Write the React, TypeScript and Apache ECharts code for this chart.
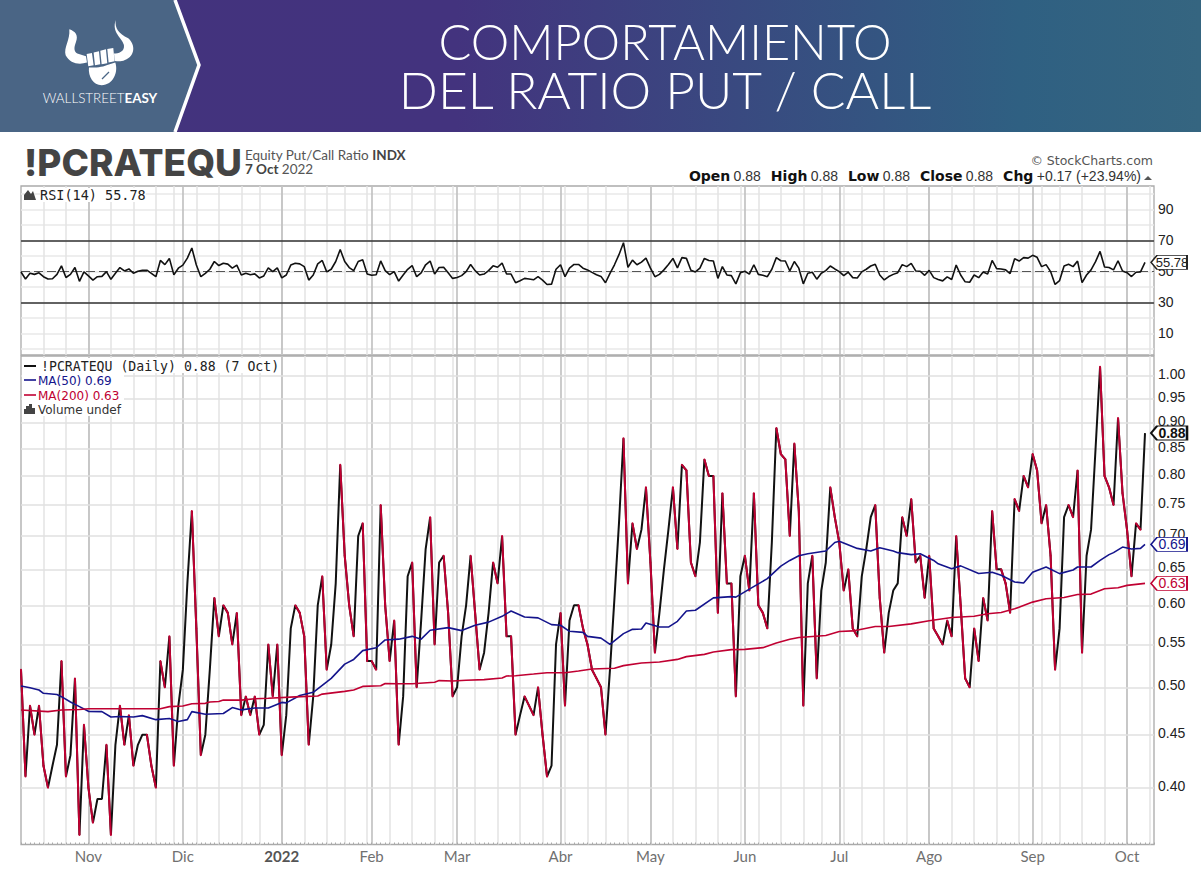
import React, { useEffect, useRef } from "react";
import * as echarts from "echarts";

const holidays = ["2021-11-25","2021-12-24","2022-01-17","2022-02-21","2022-04-15","2022-05-30","2022-06-20","2022-07-04","2022-09-05"];
const firstDay = "2021-10-11";
const lastAxisDay = "2022-10-11";
const monthLabels = ["Nov","Dic","2022","Feb","Mar","Abr","May","Jun","Jul","Ago","Sep","Oct"];

const closes = [
  0.52,0.41,0.48,0.45,0.48,0.42,0.40,0.42,0.44,0.53,
  0.41,0.43,0.51,0.36,0.46,0.40,0.37,0.39,0.39,0.44,
  0.36,0.44,0.48,0.44,0.47,0.42,0.44,0.45,0.45,0.42,
  0.40,0.53,0.50,0.56,0.42,0.48,0.52,0.63,0.74,0.57,
  0.43,0.45,0.52,0.61,0.56,0.60,0.59,0.55,0.59,0.47,
  0.49,0.47,0.49,0.45,0.46,0.55,0.49,0.55,0.43,0.47,
  0.57,0.60,0.59,0.56,0.44,0.49,0.60,0.64,0.52,0.55,
  0.63,0.82,0.67,0.60,0.56,0.70,0.72,0.53,0.53,0.52,
  0.75,0.60,0.53,0.58,0.44,0.49,0.64,0.66,0.50,0.58,
  0.68,0.73,0.55,0.66,0.67,0.59,0.49,0.50,0.56,0.60,
  0.67,0.59,0.52,0.54,0.59,0.66,0.63,0.70,0.56,0.56,
  0.45,0.47,0.49,0.48,0.47,0.50,0.45,0.41,0.42,0.55,
  0.59,0.48,0.58,0.60,0.60,0.57,0.55,0.52,0.51,0.50,
  0.45,0.52,0.61,0.72,0.87,0.63,0.72,0.68,0.71,0.78,
  0.66,0.54,0.59,0.65,0.71,0.78,0.68,0.82,0.81,0.66,
  0.64,0.69,0.83,0.80,0.80,0.59,0.77,0.63,0.63,0.49,
  0.64,0.67,0.62,0.77,0.60,0.59,0.57,0.69,0.89,0.84,
  0.83,0.70,0.86,0.74,0.48,0.63,0.67,0.51,0.62,0.66,
  0.78,0.73,0.69,0.62,0.65,0.57,0.56,0.64,0.68,0.73,
  0.75,0.61,0.54,0.59,0.62,0.63,0.73,0.70,0.76,0.66,
  0.67,0.61,0.67,0.57,0.56,0.55,0.58,0.56,0.70,0.60,
  0.51,0.50,0.57,0.53,0.61,0.58,0.74,0.65,0.65,0.63,
  0.59,0.76,0.74,0.80,0.78,0.84,0.81,0.72,0.75,0.67,
  0.52,0.57,0.73,0.75,0.73,0.81,0.54,0.67,0.71,0.85,
  1.02,0.80,0.78,0.75,0.91,0.77,0.71,0.64,0.72,0.71,0.88,
];

const rsiValues = [
  49.5,45,48.7,48,49,46.5,45,45.2,48,53.5,
  46,48,52.4,43.5,49.6,47,44.3,46.5,46.7,49.8,
  44.8,48.7,52.4,50.2,51.5,48.7,50,50.7,50.7,48.7,
  46.5,57,54.3,58.3,47.8,52,54,58.5,65,54,
  46.5,48.7,51.3,56.3,53.7,55.2,54.6,52,54,47.6,
  48.7,47.8,48.3,45.7,47,52.2,49.8,52.2,45.7,47.6,
  54,55.2,54.8,53,44.3,47.6,54.8,57,49.6,51.3,
  56.3,64,56.3,52.4,50.4,56.3,57.4,48.3,47.4,47.8,
  56.7,50.4,47.8,49.8,43.7,47.6,51.3,53.7,46.5,49,
  54.2,56.6,48.2,52.4,52.6,49,45.4,46,47.2,49.8,
  54.4,50.4,47.6,48.2,50.4,53.5,52.6,55.3,48.2,48.2,
  42.6,43.9,45.4,45,44.5,46.5,44.3,41.5,41.7,51.3,
  54.2,46.5,52,54.4,54.4,52,50.9,49.3,47.8,46.7,
  42.6,48.7,54.2,60.7,68.4,52.6,57.2,54.2,55.9,58.5,
  52,46.5,48,50.9,54.4,58.3,52.2,58.8,58.3,50.7,
  49.6,52,58.3,57,56.6,45.4,53,47.6,47.2,41.9,
  49,50,48.2,54.2,48,47.4,46.5,51.3,58.8,56.8,
  56.6,50.2,56.3,52,41.9,48.7,49.4,44.9,48.7,50.4,
  53.4,51.5,49.8,47.2,49.4,45.9,45.7,49.6,51.3,53.4,
  54.5,47.6,44.4,46.6,48,49.1,54.3,53,55.1,50.2,
  50,47.4,50.6,45.9,44.7,43.8,46.4,44.7,54,47.6,
  43.2,42.9,47.6,45.9,49.6,48.3,57,51.7,51.5,50.9,
  48.5,58.1,56.6,58.8,58.5,60.3,59,53,54.3,49.8,
  41.5,44,53.4,54.5,53,56.6,42.7,47.6,50.9,56.2,
  62.8,52.8,52.4,50.9,56.8,50.2,49.1,46.6,49.4,49.6,55.78,
];

const ma50Points = [
  [0,.5015],[2,.4996],[4,.497],[5,.4934],[8,.492],[9,.4897],[11,.484],[13,.479],[15,.474],[18,.4737],
  [20,.468],[22,.4686],[25,.468],[27,.4695],[30,.4653],[33,.4665],[35,.4634],[37,.4653],[38,.4737],[41,.471],
  [45,.4717],[47,.478],[49,.4755],[52,.4775],[55,.4775],[58,.4835],[59,.483],[62,.491],[65,.4945],[68,.506],
  [69,.51],[72,.5265],[74,.532],[76,.5425],[79,.546],[81,.5555],[84,.5565],[87,.56],[89,.5565],[91,.5676],
  [95,.571],[98,.5672],[101,.574],[104,.578],[107,.5855],[109,.5925],[112,.5847],[115,.5835],[118,.5748],[120,.574],
  [122,.5663],[125,.565],[126,.56],[129,.5578],[131,.55],[134,.5634],[136,.5688],[138,.5693],[139,.5769],[142,.5717],
  [144,.5717],[146,.579],[148,.5925],[150,.5935],[154,.61],[158,.6117],[159,.611],[162,.622],[166,.6367],[169,.6547],
  [171,.663],[173,.67],[175,.673],[179,.677],[181,.69],[182,.692],[186,.681],[189,.677],[191,.682],[194,.677],
  [195,.6746],[198,.6716],[200,.673],[203,.663],[204,.658],[207,.651],[209,.655],[213,.644],[216,.6458],[218,.6414],
  [221,.632],[223,.6305],[225,.6458],[228,.6534],[231,.6438],[234,.649],[235,.6534],[238,.6534],[240,.663],[242,.6716],
  [243,.6746],[245,.683],[247,.68],[249,.681],[250,.687],
];

const ma200Points = [
  [0,.4754],[6,.4737],[9,.4754],[13,.476],[15,.4768],[31,.4768],[33,.479],[36,.4797],[38,.482],[41,.4825],
  [42,.484],[44,.4845],[45,.486],[49,.486],[52,.4875],[55,.488],[61,.4895],[66,.4905],[67,.4925],[72,.4955],
  [74,.497],[76,.501],[80,.5017],[81,.5043],[84,.504],[87,.504],[92,.5057],[93,.5075],[96,.507],[99,.508],
  [103,.5086],[107,.5105],[108,.5127],[110,.5131],[114,.515],[117,.5165],[121,.5165],[124,.5185],[127,.5208],[132,.5216],
  [134,.5247],[138,.5278],[142,.529],[146,.532],[148,.5353],[152,.538],[154,.5409],[158,.5437],[161,.544],[165,.5461],
  [168,.5518],[171,.5563],[173,.5585],[179,.561],[182,.566],[185,.5668],[190,.5724],[193,.5724],[198,.5758],[202,.5797],
  [207,.584],[212,.5857],[215,.5888],[218,.5905],[221,.5954],[225,.6043],[228,.6088],[232,.6105],[235,.6147],[238,.6152],
  [241,.6226],[244,.624],[246,.6272],[250,.63],
];

const priceTicks = [1.0,0.95,0.9,0.85,0.8,0.75,0.7,0.65,0.6,0.55,0.5,0.45,0.4];
const rsiLabelValues = [10,30,50,70,90];
const rsiGridValues = [0,10,20,30,40,50,60,70,80,90,100];
const rsiLevels = [70,30];
const closeTag = "0.88";
const ma50Tag = "0.69";
const ma200Tag = "0.63";
const rsiTag = "55.78";

const iso = (d: Date) => d.toISOString().slice(0, 10);
function buildDays() {
  const out: string[] = [];
  const d = new Date(firstDay + "T00:00:00Z");
  const end = new Date(lastAxisDay + "T00:00:00Z");
  while (d <= end) {
    const wd = d.getUTCDay();
    if (wd !== 0 && wd !== 6 && !holidays.includes(iso(d))) out.push(iso(d));
    d.setUTCDate(d.getUTCDate() + 1);
  }
  return out;
}
const days = buildDays();
const monthStarts: number[] = [];
const weekStarts: number[] = [];
days.forEach((s, i) => {
  if (i === 0) return;
  if (s.slice(5, 7) !== days[i - 1].slice(5, 7)) monthStarts.push(i);
  const a = new Date(s + "T00:00:00Z").getUTCDay();
  const b = new Date(days[i - 1] + "T00:00:00Z").getUTCDay();
  if (a < b) weekStarts.push(i);
});
const monthSet = new Set(monthStarts);
const weekSet = new Set(weekStarts);
const labelByDay: Record<string, string> = {};
monthStarts.forEach((i, k) => { if (monthLabels[k]) labelByDay[days[i]] = monthLabels[k]; });
const lastIdx = closes.length - 1;
const downSegments: number[][] = [];
closes.forEach((c, i) => { if (i > 0 && c < closes[i - 1]) downSegments.push([i - 1, closes[i - 1], i, c]); });

const PLOT_LEFT = 21, PLOT_W = 1133;
const MONO = "'DejaVu Sans Mono'";
const SANS = "'Liberation Sans'";
const tagPath = "path://M0,7 L6,0 L36,0 L36,14 L6,14 Z";

function tag(idx: number, value: number, text: string, color: string, bold = false, fontSize = 14) {
  return {
    silent: true,
    z: 20,
    symbol: tagPath,
    symbolSize: [36, 14],
    symbolKeepAspect: false,
    symbolOffset: [24, 0],
    itemStyle: { color: "#fff", borderColor: color, borderWidth: bold ? 1.6 : 1.2 },
    label: {
      show: true, position: "inside", offset: [3, 0], formatter: text, color,
      fontFamily: SANS, fontSize, fontWeight: bold ? "bold" : "normal",
    },
    data: [{ coord: [days[idx], value] }],
  };
}

function xAxes(gridIndex: number, withLabels: boolean) {
  const minor = {
    type: "category", gridIndex, data: days, boundaryGap: false, position: "bottom",
    axisLine: { show: false },
    axisTick: withLabels
      ? { show: true, inside: true, length: 2, interval: 0, lineStyle: { color: "#aaa", width: 1 } }
      : { show: false },
    axisLabel: { show: false },
    splitLine: { show: true, interval: (i: number) => weekSet.has(i), lineStyle: { color: "#e3e3e3", width: 1.5 } },
  };
  const major = {
    type: "category", gridIndex, data: days, boundaryGap: false, position: "bottom",
    axisLine: { show: false },
    axisTick: { show: false },
    axisLabel: {
      show: withLabels,
      interval: (i: number) => monthSet.has(i),
      margin: 4,
      hideOverlap: false,
      color: "#707070",
      fontFamily: "Lato",
      fontSize: 15,
      formatter: (v: string) => {
        const t = labelByDay[v] || "";
        return t === "2022" ? "{y|2022}" : t;
      },
      rich: { y: { fontWeight: "bold", fontSize: 15, color: "#555", fontFamily: "Lato" } },
    },
    splitLine: { show: true, interval: (i: number) => monthSet.has(i), lineStyle: { color: "#bfbfbf", width: 1.6 } },
  };
  return [minor, major];
}

const legendFont = "12px 'DejaVu Sans'";
function graphicElements() {
  const white = "#fff";
  return [
    {
      type: "rect", silent: true, z: -10,
      shape: { x: 0, y: 0, width: 1201, height: 132 },
      style: {
        fill: new echarts.graphic.LinearGradient(0, 0, 1, 0, [
          { offset: 0, color: "#43337d" }, { offset: 0.38, color: "#43337e" },
          { offset: 0.85, color: "#2f6082" }, { offset: 1, color: "#356580" },
        ]),
      },
    },
    { type: "polygon", silent: true, z: -9, shape: { points: [[0, 0], [174, 0], [198, 65], [174, 132], [0, 132]] }, style: { fill: "#4a6585" } },
    { type: "polyline", silent: true, z: -8, shape: { points: [[175, 0], [199, 65], [175, 132]] }, style: { stroke: white, lineWidth: 3.5, fill: "none" } },
    { type: "bullLogo", silent: true, z: -7, x: 50, y: 10, scaleX: 1 / 3, scaleY: 1 / 3, style: { fill: white } },
    { type: "line", silent: true, z: -6, shape: { x1: 102, y1: 79, x2: 109, y2: 72 }, style: { stroke: "#4a6585", lineWidth: 1.3 } },
    {
      type: "text", silent: true, x: 100, y: 98, z: -6,
      style: {
        text: "{a|WALLSTREET}{b|EASY}", align: "center", verticalAlign: "middle",
        rich: {
          a: { fontFamily: "Lato", fontWeight: 300, fontSize: 13.4, fill: white, color: white },
          b: { fontFamily: "Lato", fontWeight: 700, fontSize: 13.4, fill: white, color: white },
        },
      },
    },
    { type: "text", silent: true, x: 665, y: 41, style: { text: "COMPORTAMIENTO", align: "center", verticalAlign: "middle", fill: white, fontFamily: "Lato", fontWeight: 300, fontSize: 48.7, lineHeight: 44 } },
    { type: "text", silent: true, x: 665, y: 89, style: { text: "DEL RATIO PUT / CALL", align: "center", verticalAlign: "middle", fill: white, fontFamily: "Lato", fontWeight: 300, fontSize: 51.4, lineHeight: 44 } },
    { type: "text", silent: true, x: 24, y: 162, style: { text: "!PCRATEQU", align: "left", verticalAlign: "middle", fill: "#444", fontFamily: "Inter", fontWeight: 800, fontSize: 37 } },
    {
      type: "text", silent: true, x: 245, y: 155,
      style: {
        text: "{a|Equity Put/Call Ratio} {b|INDX}", align: "left", verticalAlign: "middle",
        rich: { a: { fontFamily: "Lato", fontSize: 13.5, color: "#555", fill: "#555" }, b: { fontFamily: "Lato", fontWeight: 700, fontSize: 13.5, color: "#444", fill: "#444" } },
      },
    },
    {
      type: "text", silent: true, x: 245, y: 169,
      style: {
        text: "{b|7 Oct} {a|2022}", align: "left", verticalAlign: "middle",
        rich: { a: { fontFamily: "Lato", fontSize: 13.5, color: "#555", fill: "#555" }, b: { fontFamily: "Lato", fontWeight: 700, fontSize: 13.5, color: "#444", fill: "#444" } },
      },
    },
    { type: "text", silent: true, x: 1153, y: 160, style: { text: "© StockCharts.com", align: "right", verticalAlign: "middle", fill: "#555", fontFamily: "'DejaVu Sans'", fontSize: 12.5 } },
    {
      type: "text", silent: true, x: 1141, y: 176,
      style: {
        text: "{b|Open} {v|0.88}   {b|High} {v|0.88}   {b|Low} {v|0.88}   {b|Close} {v|0.88}   {b|Chg} {v|+0.17 (+23.94%)}",
        align: "right", verticalAlign: "middle",
        rich: {
          b: { fontFamily: "'DejaVu Sans'", fontWeight: "bold", fontSize: 14, color: "#111", fill: "#111" },
          v: { fontFamily: SANS, fontSize: 14, color: "#333", fill: "#333" },
        },
      },
    },
    { type: "polygon", silent: true, shape: { points: [[1144, 180], [1148, 176], [1152, 180]] }, style: { fill: "#555" } },
    // RSI legend
    { type: "polygon", silent: true, z: 30, shape: { points: [[24, 200], [24, 195], [28, 190], [31, 194], [33, 191], [36, 200]] }, style: { fill: "#444" } },
    { type: "text", silent: true, z: 30, x: 40, y: 195, style: { text: "RSI(14) 55.78", align: "left", verticalAlign: "middle", fill: "#222", fontFamily: MONO, fontSize: 13.5, backgroundColor: "#fff" } },
    // main legend
    { type: "rect", silent: true, z: 29, shape: { x: 22, y: 358, width: 258, height: 15 }, style: { fill: "#fff" } },
    { type: "rect", silent: true, z: 29, shape: { x: 22, y: 373, width: 102, height: 43 }, style: { fill: "#fff" } },
    { type: "line", silent: true, z: 30, shape: { x1: 24, y1: 366, x2: 36, y2: 366 }, style: { stroke: "#111", lineWidth: 2 } },
    { type: "text", silent: true, z: 30, x: 41, y: 366, style: { text: "!PCRATEQU (Daily) 0.88 (7 Oct)", align: "left", verticalAlign: "middle", fill: "#222", fontFamily: MONO, fontSize: 13.2 } },
    { type: "line", silent: true, z: 30, shape: { x1: 24, y1: 380, x2: 36, y2: 380 }, style: { stroke: "#14148c", lineWidth: 1.6 } },
    { type: "text", silent: true, z: 30, x: 38, y: 381, style: { text: "MA(50) 0.69", align: "left", verticalAlign: "middle", fill: "#14148c", font: legendFont } },
    { type: "line", silent: true, z: 30, shape: { x1: 24, y1: 395, x2: 36, y2: 395 }, style: { stroke: "#c00032", lineWidth: 1.6 } },
    { type: "text", silent: true, z: 30, x: 38, y: 396, style: { text: "MA(200) 0.63", align: "left", verticalAlign: "middle", fill: "#c00032", font: legendFont } },
    { type: "polygon", silent: true, z: 30, shape: { points: [[24, 414], [24, 409], [26, 409], [26, 406], [29, 406], [29, 404], [32, 404], [32, 408], [35, 408], [35, 414]] }, style: { fill: "#444" } },
    { type: "text", silent: true, z: 30, x: 38, y: 410, style: { text: "Volume undef", align: "left", verticalAlign: "middle", fill: "#333", font: legendFont } },
  ];
}

const logoD =
  "M58,58 C76,64 86,76 78,96 C71,114 72,124 82,131 L108,139 L111,158 C85,166 60,160 47,136 C40,114 61,90 58,58 Z " +
  "M197,30 C195,55 205,70 235,85 C258,105 255,140 225,150 C215,155 205,155 195,153 L192,131 C205,131 225,125 222,105 C215,80 185,70 197,30 Z " +
  "M110,132 L126,129 L131,166 L115,169 Z M131,128 L147,124 L151,163 L135,166 Z M151,122 L168,118 L172,160 L155,163 Z M172,117 L190,114 L194,154 L176,158 Z " +
  "M117,173 C140,173 155,172 172,165 L196,158 C206,186 190,226 155,226 C130,226 114,200 117,173 Z";

echarts.graphic.registerShape("bullLogo", echarts.graphic.extendPath(logoD, {}) as any);

export default function App() {
  const ref = useRef<HTMLDivElement>(null);
  useEffect(() => {
    if (!ref.current) return;
    document.body.style.margin = "0";
    document.body.style.background = "#fff";
    const chart = echarts.init(ref.current, undefined, { renderer: "svg" });
    const option: any = {
      animation: false,
      backgroundColor: "#fff",
      grid: [
        { left: PLOT_LEFT, top: 186, width: PLOT_W, height: 169, show: true, borderColor: "#aaa", borderWidth: 1.3, backgroundColor: "#fff" },
        { left: PLOT_LEFT, top: 356, width: PLOT_W, height: 488.5, show: true, borderColor: "#aaa", borderWidth: 1.3, backgroundColor: "#fff" },
      ],
      xAxis: [...xAxes(0, false), ...xAxes(1, true)],
      yAxis: [
        {
          type: "value", gridIndex: 0, position: "right", min: -4, max: 105,
          axisLine: { show: false },
          axisTick: { show: false, customValues: rsiGridValues },
          axisLabel: { customValues: rsiLabelValues, color: "#222", fontFamily: SANS, fontSize: 14, margin: 4 },
          splitLine: { show: true, lineStyle: { color: "#e8e8e8", width: 1.5 } },
        },
        {
          type: "log", gridIndex: 1, position: "right", min: 0.3525, max: 1.0446,
          axisLine: { show: false }, axisTick: { show: false }, axisLabel: { show: false }, splitLine: { show: false },
        },
      ],
      series: [
        {
          name: "RSI(14)", type: "line", xAxisIndex: 0, yAxisIndex: 0, z: 4,
          data: rsiValues, showSymbol: false, silent: true,
          lineStyle: { color: "#111", width: 1.6 },
          markLine: {
            silent: true, symbol: "none", z: 3, animation: false,
            label: { show: false },
            lineStyle: { color: "#333", width: 1.6, type: "solid" },
            data: [
              ...rsiLevels.map((v) => ({ yAxis: v })),
              { yAxis: 50, lineStyle: { color: "#555", width: 1, type: [9, 4] } },
            ],
          },
          markPoint: tag(lastIdx, rsiValues[lastIdx], rsiTag, "#222", false, 13),
        },
        {
          name: "!PCRATEQU", type: "line", xAxisIndex: 2, yAxisIndex: 1, z: 4,
          data: closes, showSymbol: false, silent: true,
          lineStyle: { color: "#111", width: 2 },
          markLine: {
            silent: true, symbol: "none", z: 1, animation: false,
            lineStyle: { color: "#e0e0e0", width: 1.5, type: "solid" },
            label: {
              show: true, position: "end", distance: 4, offset: [0, -2],
              color: "#222", fontFamily: SANS, fontSize: 14,
              formatter: (p: any) => Number(p.value).toFixed(2),
            },
            data: priceTicks.map((v) => ({ yAxis: v })),
          },
          markPoint: tag(lastIdx, closes[lastIdx], closeTag, "#111", true),
        },
        {
          name: "down", type: "custom", xAxisIndex: 2, yAxisIndex: 1, z: 5, silent: true,
          coordinateSystem: "cartesian2d",
          encode: { x: [0, 2], y: [1, 3] },
          data: downSegments,
          renderItem: (_p: any, api: any) => {
            const a = api.coord([api.value(0), api.value(1)]);
            const b = api.coord([api.value(2), api.value(3)]);
            return {
              type: "line",
              shape: { x1: a[0], y1: a[1], x2: b[0], y2: b[1] },
              style: { stroke: "#c00032", lineWidth: 2, lineCap: "round", fill: null },
            };
          },
        },
        {
          name: "MA(50)", type: "line", xAxisIndex: 2, yAxisIndex: 1, z: 6,
          data: ma50Points.map(([i, v]) => [days[i], v]), showSymbol: false, silent: true,
          lineStyle: { color: "#14148c", width: 1.6 },
          markPoint: tag(lastIdx, 0.687, ma50Tag, "#14148c"),
        },
        {
          name: "MA(200)", type: "line", xAxisIndex: 2, yAxisIndex: 1, z: 6,
          data: ma200Points.map(([i, v]) => [days[i], v]), showSymbol: false, silent: true,
          lineStyle: { color: "#c00032", width: 1.6 },
          markPoint: tag(lastIdx, 0.63, ma200Tag, "#c00032"),
        },
      ],
      graphic: { elements: graphicElements() },
    };
    chart.setOption(option);
    return () => chart.dispose();
  }, []);
  return <div ref={ref} style={{ position: "absolute", left: 0, top: 0, width: 1201, height: 875 }} />;
}
